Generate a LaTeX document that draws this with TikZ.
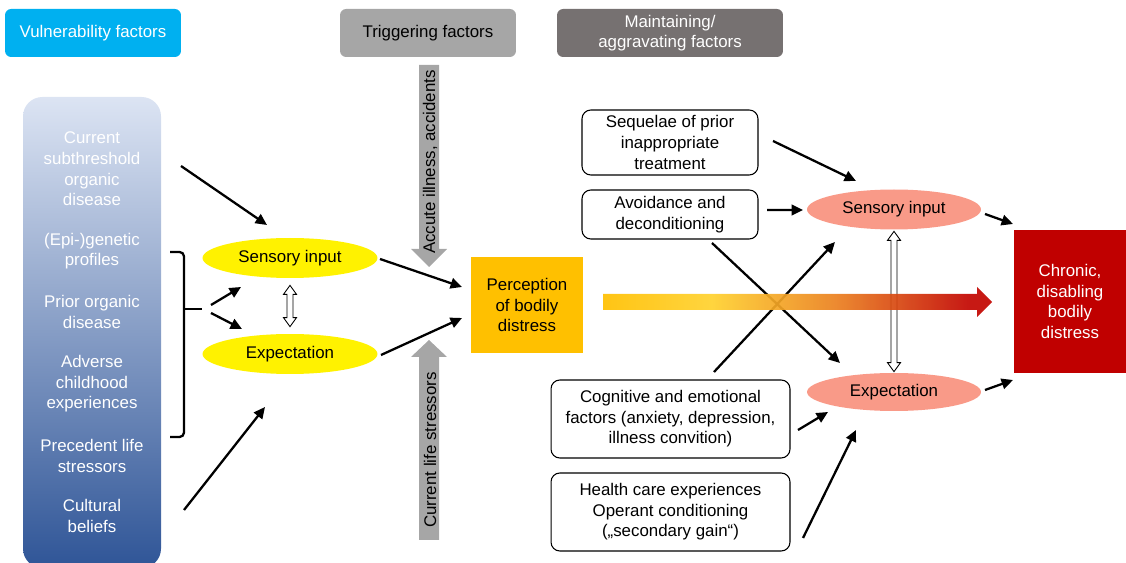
\documentclass[tikz,border=0pt]{standalone}
\usepackage{fontspec}
\setmainfont{Liberation Sans}
\usetikzlibrary{shapes.geometric,arrows.meta,calc}

\definecolor{vulncyan}{HTML}{00B0F0}
\definecolor{triggray}{HTML}{A6A6A6}
\definecolor{maintgray}{HTML}{767171}
\definecolor{coltop}{HTML}{DCE4F3}
\definecolor{colbot}{HTML}{2F5597}
\definecolor{percyellow}{HTML}{FFC000}
\definecolor{salmon}{HTML}{F99A88}
\definecolor{chronred}{HTML}{C00000}

\pgfdeclarehorizontalshading{chronshade}{100bp}{rgb(0bp)=(1,0.75,0); rgb(25bp)=(1,0.75,0); rgb(39bp)=(1,0.82,0.18); rgb(55bp)=(0.92,0.5,0.12); rgb(72bp)=(0.76,0.02,0); rgb(100bp)=(0.75,0,0)}

\newcommand\dfont{\fontsize{9.6}{11.7}\selectfont}
\newcommand\hollowvert[2]{%
  \draw[fill=white,line width=0.5pt] (#1) -- ($(#1)+(6.5,9)$) -- ($(#1)+(3,9)$) -- ($(#2)+(3,-9)$) -- ($(#2)+(6.5,-9)$) -- (#2)
       -- ($(#2)+(-6.5,-9)$) -- ($(#2)+(-3,-9)$) -- ($(#1)+(-3,9)$) -- ($(#1)+(-6.5,9)$) -- cycle;}

\tikzset{
  every node/.style={font=\dfont, align=center, inner sep=0pt},
  hdr/.style={rounded corners=3.5pt, minimum height=0.96cm},
  vtxt/.style={text=white},
  oval/.style={ellipse, minimum width=3.5cm, minimum height=0.8cm},
  factor/.style={draw, rounded corners=5pt, line width=0.6pt},
  arr/.style={line width=1.3pt, -{Triangle[length=6.5pt,width=6pt]}},
  brc/.style={line width=1.3pt, rounded corners=2.5pt},
}

\begin{document}
\begin{tikzpicture}[x=0.02cm, y=-0.02cm]
        \useasboundingbox (0,0) rectangle (1126,563);

        \node[hdr, fill=vulncyan, text=white, minimum width=3.52cm] (vuln)  at ( 93, 33) {Vulnerability factors};
        \node[hdr, fill=triggray,             minimum width=3.52cm] (trig)  at (428, 33) {Triggering factors};
        \node[hdr, fill=maintgray, text=white, minimum width=4.52cm] (maint) at (670, 33) {Maintaining/\\aggravating factors};

        \shade[top color=coltop, bottom color=colbot, rounded corners=11pt] (23,97) rectangle (161,568);
        \node[vtxt] (cur)  at (92,169) {Current\\subthreshold\\organic\\disease};
        \node[vtxt] (epi)  at (92,251) {(Epi-)genetic\\profiles};
        \node[vtxt] (pri)  at (92,312) {Prior organic\\disease};
        \node[vtxt] (adv)  at (92,384) {Adverse\\childhood\\experiences};
        \node[vtxt] (prec) at (92,456) {Precedent life\\stressors};
        \node[vtxt] (cul)  at (92,516) {Cultural\\beliefs};

        \draw[brc] (170,252) -- (184,252) -- (184,437) -- (170,437);
        \draw[brc] (184,309) -- (202,309);
        \coordinate (brace) at (202,309);

        \node[oval, fill=yellow] (sens1) at (290,258) {Sensory input};
        \node[oval, fill=yellow] (exp1)  at (290,354) {Expectation};
        \node[fill=percyellow, minimum width=2.24cm, minimum height=1.92cm] (perc) at (527,305) {Perception\\of bodily\\distress};

        \fill[triggray] (419,65) -- (439,65) -- (439,249) -- (447,249) -- (429,267) -- (411,249) -- (419,249) -- cycle;
        \fill[triggray] (419,540) -- (439,540) -- (439,357) -- (447,357) -- (429,340) -- (411,357) -- (419,357) -- cycle;
        \node[rotate=90] (acc) at (430,162) {Accute illness, accidents};
        \node[rotate=90] (cls) at (430,450) {Current life stressors};

        \draw[arr] ($(cur)+(89,-3)$)  -- ($(sens1)+(-23,-33)$);
        \draw[arr] ($(cul)+(92,-6)$)  -- ($(exp1)+(-25,53)$);
        \draw[arr] ($(brace)+(9,-4)$) -- ($(sens1)+(-49,29)$);
        \draw[arr] ($(brace)+(9,4)$)  -- ($(exp1)+(-48,-25)$);
        \draw[arr] ($(sens1)+(90,1)$) -- ($(perc)+(-65,-18)$);
        \draw[arr] ($(exp1)+(91,1)$)  -- ($(perc)+(-65,13)$);
        \coordinate (h1a) at ($(sens1.south)+(0,7)$);
        \coordinate (h1b) at ($(exp1.north)+(0,-7)$);
        \hollowvert{h1a}{h1b}

        \node[factor, minimum width=3.52cm, minimum height=1.30cm] (seq) at (670,142.5) {Sequelae of prior\\inappropriate\\treatment};
        \node[factor, minimum width=3.52cm, minimum height=0.98cm] (avd) at (670,214.5) {Avoidance and\\deconditioning};
        \node[factor, minimum width=4.78cm, minimum height=1.56cm] (cog) at (670.5,419) {Cognitive and emotional\\factors (anxiety, depression,\\illness convition)};
        \node[factor, minimum width=4.78cm, minimum height=1.56cm] (hce) at (670.5,512) {Health care experiences\\Operant conditioning\\(„secondary gain“)};

        \node[oval, fill=salmon, minimum width=3.48cm] (sens2) at (894,209.5) {Sensory input};
        \node[oval, fill=salmon, minimum width=3.48cm, minimum height=0.76cm] (exp2)  at (894,392) {Expectation};
        \node[fill=chronred, text=white, minimum width=2.24cm, minimum height=2.86cm] (chr) at (1070,301.5) {Chronic,\\disabling\\bodily\\distress};

        \draw[arr] ($(seq)+(103,-1.5)$) -- ($(sens2)+(-38,-28.5)$);
        \draw[arr] ($(avd)+(97,-4.5)$)  -- ($(sens2)+(-91,0.5)$);
        \draw[arr] ($(avd)+(42,28.5)$)  -- ($(exp2)+(-54,-29)$);
        \draw[arr] ($(cog)+(43.5,-47)$) -- ($(sens2)+(-59,32.5)$);
        \draw[arr] ($(cog)+(127.5,11)$) -- ($(exp2)+(-66,20)$);
        \draw[arr] ($(hce)+(132.5,26)$) -- ($(exp2)+(-38,38)$);
        \draw[arr] ($(sens2)+(91,4.5)$) -- ($(chr)+(-57,-77.5)$);
        \draw[arr] ($(exp2)+(91,-2)$)   -- ($(chr)+(-57,78.5)$);
        \coordinate (h2a) at ($(sens2.south)+(0,1.5)$);
        \coordinate (h2b) at ($(exp2.north)+(0,-1)$);
        \hollowvert{h2a}{h2b}

        \shade[shading=chronshade, opacity=0.92] (603,294) -- (977,294) -- (977,287) -- (992,302) -- (977,317) -- (977,310) -- (603,310) -- cycle;
      \end{tikzpicture}
\end{document}
